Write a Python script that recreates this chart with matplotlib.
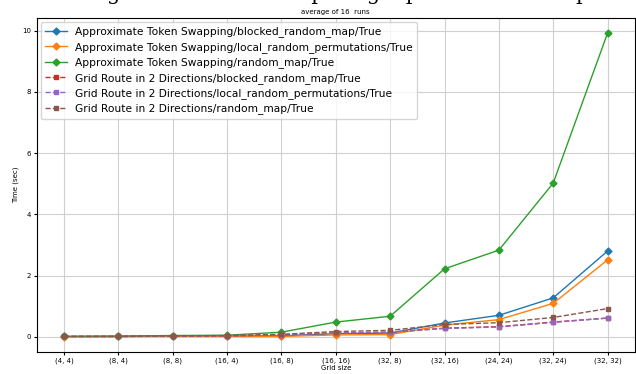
import matplotlib
matplotlib.use("Agg")
import matplotlib.pyplot as plt

grid_sizes = ["(4, 4)", "(8, 4)", "(8, 8)", "(16, 4)", "(16, 8)", "(16, 16)",
              "(32, 8)", "(32, 16)", "(24, 24)", "(32, 24)", "(32, 32)"]

ats_blocked = [0.01, 0.01, 0.02, 0.02, 0.03, 0.10, 0.12, 0.45, 0.70, 1.27, 2.80]
ats_local = [0.00, 0.01, 0.01, 0.01, 0.01, 0.06, 0.07, 0.38, 0.56, 1.09, 2.51]
ats_random = [0.01, 0.02, 0.04, 0.05, 0.15, 0.48, 0.67, 2.22, 2.83, 5.02, 9.92]
gr_blocked = [0.01, 0.01, 0.02, 0.03, 0.06, 0.12, 0.15, 0.28, 0.33, 0.48, 0.61]
gr_local = [0.01, 0.01, 0.02, 0.03, 0.06, 0.12, 0.15, 0.27, 0.32, 0.47, 0.61]
gr_random = [0.01, 0.01, 0.03, 0.04, 0.08, 0.17, 0.21, 0.40, 0.46, 0.63, 0.92]

series = [
    ("Approximate Token Swapping/blocked_random_map/True", ats_blocked, "-", "D", "#1f77b4"),
    ("Approximate Token Swapping/local_random_permutations/True", ats_local, "-", "D", "#ff7f0e"),
    ("Approximate Token Swapping/random_map/True", ats_random, "-", "D", "#2ca02c"),
    ("Grid Route in 2 Directions/blocked_random_map/True", gr_blocked, "--", "s", "#d62728"),
    ("Grid Route in 2 Directions/local_random_permutations/True", gr_local, "--", "s", "#9467bd"),
    ("Grid Route in 2 Directions/random_map/True", gr_random, "--", "s", "#8c564b"),
]

fig = plt.figure(figsize=(6.36, 3.74), dpi=100)
ax = fig.add_axes([0.058, 0.059, 0.94, 0.893])
x = list(range(len(grid_sizes)))
for label, vals, ls, mk, c in series:
    ax.plot(x, vals, linestyle=ls, marker=mk, color=c, label=label,
            markersize=3.5, linewidth=1.0)

ax.set_xticks(x)
ax.set_xticklabels(grid_sizes)
ax.set_yticks([0, 2, 4, 6, 8, 10])
ax.tick_params(labelsize=5, length=2.5, pad=1.5)
ax.set_xlabel("Grid size", fontsize=5, labelpad=0.5)
ax.set_ylabel("Time (sec)", fontsize=5, labelpad=2)
ax.set_title("average of 16  runs", fontsize=5, pad=3)
ax.grid(True, color="#d0d0d0", linewidth=0.8)
ax.legend(loc="upper left", fontsize=7.7, handlelength=2, borderaxespad=0.4,
          labelspacing=0.42)

fig.text(0.5, 1.0, "Average runtime for computing a permutation map",
         ha="center", va="baseline", fontsize=15, family="DejaVu Serif")

fig.savefig("out.png", dpi=100)
